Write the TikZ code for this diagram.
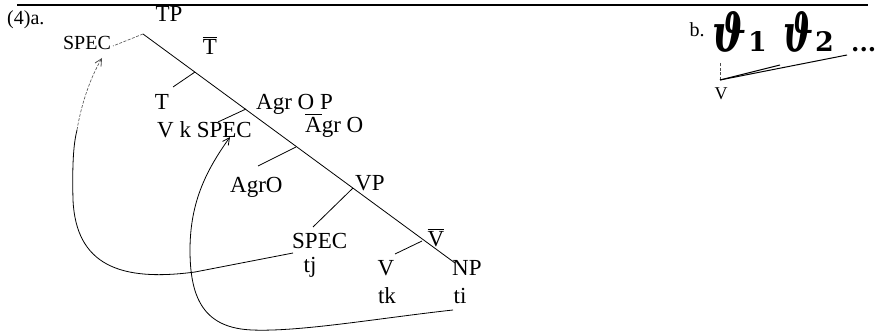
\documentclass[tikz,border=0pt]{standalone}
\usepackage{fontspec}
\setmainfont{Liberation Serif}
\newfontfamily\handfont{DejaVu Serif}
\usetikzlibrary{arrows.meta}
\newcommand\xbar[1]{\leavevmode\vbox{\hrule height 0.9pt\kern2.5pt\hbox{#1}}}
\newcommand\handtheta[2]{\resizebox{#2}{40pt}{\handfont\bfseries\itshape ϑ}\kern2pt\resizebox{!}{20pt}{\handfont\bfseries #1}}
\begin{document}
\begin{tikzpicture}[x=1pt,y=-1pt,inner sep=0pt,
  lab/.style={font=\fontsize{23}{23}\selectfont,anchor=base},
  labw/.style={font=\fontsize{23}{23}\selectfont,anchor=base west},
  small/.style={font=\fontsize{20}{20}\selectfont,anchor=base},
  branch/.style={line width=0.8pt},
  faint/.style={line width=0.6pt,dash pattern=on 3pt off 1.5pt,black!70},
  move/.style={line width=0.8pt},
  tip/.style={-{Straight Barb[length=7pt,width=7pt,line width=0.8pt]}},
  hand/.style={anchor=base west}]
\useasboundingbox (0,0) rectangle (886,331);
% top rule
\coordinate (ruleL) at (17,5);
\coordinate (ruleR) at (868,5);
\draw[line width=1.8pt] (ruleL) -- (ruleR);
% labels
\node[small,anchor=base west] (ex) at (7,25) {(4)a.};
\node[lab] (tp) at (169,22) {TP};
\node[small] (spec1) at (87,50) {SPEC};
\node[lab] (tbar) at (210,55) {\xbar{T}};
\node[lab] (t) at (162,110) {T};
\node[labw] (agrop) at (256,110) {Agr O P};
\node[labw] (vkspec) at (157,138) {V k SPEC};
\node[labw] (agrobar) at (305,133) {\xbar{A}gr O};
\node[labw] (agro) at (230,193) {AgrO};
\node[labw] (vp) at (355,191) {VP};
\node[labw] (spec2) at (292,248) {SPEC};
\node[lab] (tj) at (310,272) {tj};
\node[lab] (vbar) at (436,247) {\xbar{V}};
\node[lab] (v) at (386,275) {V};
\node[lab] (tk) at (387,303) {tk};
\node[labw] (np) at (452,275) {NP};
\node[lab] (ti) at (460,303) {ti};
% tree
\coordinate (apex) at (143,34);
\coordinate (jT) at (195,72);
\coordinate (jAgrOP) at (246,109);
\coordinate (jAgrObar) at (296,147);
\coordinate (jVP) at (353,188);
\coordinate (jVbar) at (422,241);
\coordinate (npTop) at (455,263);
\coordinate (tEnd) at (173,87);
\coordinate (vkEnd) at (218,122);
\coordinate (agroEnd) at (258,166);
\coordinate (specEnd) at (313,227);
\coordinate (vEnd) at (395,254);
\coordinate (spec1End) at (113,46);
\draw[branch] (apex) -- (npTop);
\draw[faint] (apex) -- (spec1End);
\draw[branch] (jT) -- (tEnd);
\draw[branch] (jAgrOP) -- (vkEnd);
\draw[branch] (jAgrObar) -- (agroEnd);
\draw[branch] (jVP) -- (specEnd);
\draw[branch] (jVbar) -- (vEnd);
% movement arrows
\coordinate (m1s) at (293,253);
\coordinate (m1a) at (195,272);
\coordinate (m1b) at (77,130);
\coordinate (m1e) at (102,58);
\draw[move] (m1s) -- (m1a) .. controls (120,282) and (76,265) .. (73,200) .. controls (72,160) and (74,142) .. (m1b);
\draw[faint,tip] (m1b) .. controls (82,100) and (92,75) .. (m1e);
\coordinate (m2s) at (453,310);
\coordinate (m2e) at (230,137);
\draw[move,tip] (m2s) .. controls (380,318) and (300,332) .. (252,330) .. controls (205,328) and (190,300) .. (190,250) .. controls (190,200) and (208,168) .. (m2e);
% part b
\node[small] (b) at (697,37) {b.};
\node[hand] (th1) at (712,52) {\handtheta{1}{34pt}};
\node[hand] (th2) at (783,52) {\handtheta{2}{30pt}};
\node[font=\handfont\bfseries\fontsize{24}{24}\selectfont,anchor=base west] (dots) at (851,52) {...};
\node[font=\fontsize{18}{18}\selectfont,anchor=base] (vb) at (721,100) {V};
\coordinate (conv) at (720,80);
\coordinate (c1) at (720,62);
\coordinate (c2) at (780,65);
\coordinate (c3) at (847,55);
\draw[faint] (conv) -- (c1);
\draw[line width=1pt] (conv) -- (c2);
\draw[line width=1pt] (conv) -- (c3);
\end{tikzpicture}
\end{document}
